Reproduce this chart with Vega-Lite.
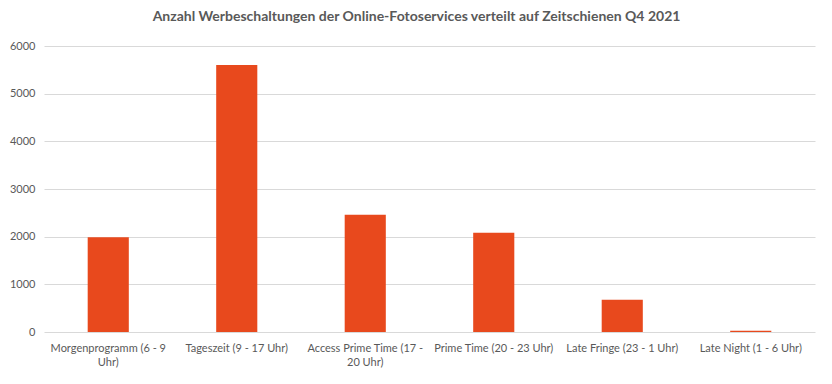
{
  "$schema": "https://vega.github.io/schema/vega-lite/v6.json",
  "width": 771,
  "height": 286,
  "autosize": {"type": "none"},
  "padding": {"left": 44, "top": 46, "right": 17, "bottom": 52},
  "background": "white",
  "title": {
    "text": "Anzahl Werbeschaltungen der Online-Fotoservices verteilt auf Zeitschienen Q4 2021",
    "font": "Lato",
    "fontSize": 14,
    "fontWeight": "bold",
    "color": "#595959",
    "anchor": "middle",
    "offset": 16,
    "dx": -13
  },
  "data": {
    "values": [
      {"zeitschiene": "Morgenprogramm (6 - 9 Uhr)", "anzahl": 1990},
      {"zeitschiene": "Tageszeit (9 - 17 Uhr)", "anzahl": 5600},
      {"zeitschiene": "Access Prime Time (17 - 20 Uhr)", "anzahl": 2460},
      {"zeitschiene": "Prime Time (20 - 23 Uhr)", "anzahl": 2080},
      {"zeitschiene": "Late Fringe (23 - 1 Uhr)", "anzahl": 675},
      {"zeitschiene": "Late Night (1 - 6 Uhr)", "anzahl": 25}
    ]
  },
  "mark": {"type": "bar", "color": "#E8491D"},
  "encoding": {
    "x": {
      "field": "zeitschiene",
      "type": "nominal",
      "sort": null,
      "scale": {"paddingInner": 0.68, "paddingOuter": 0.34},
      "axis": {
        "title": null,
        "labelAngle": 0,
        "labelFont": "Lato",
        "labelFontSize": 11,
        "labelColor": "#595959",
        "labelPadding": 10,
        "labelLineHeight": 14,
        "labelLimit": 200,
        "domain": false,
        "ticks": false,
        "labelExpr": "datum.value == 'Morgenprogramm (6 - 9 Uhr)' ? ['Morgenprogramm (6 - 9', 'Uhr)'] : datum.value == 'Access Prime Time (17 - 20 Uhr)' ? ['Access Prime Time (17 -', '20 Uhr)'] : datum.value"
      }
    },
    "y": {
      "field": "anzahl",
      "type": "quantitative",
      "scale": {"domain": [0, 6000], "nice": false},
      "axis": {
        "title": null,
        "values": [0, 1000, 2000, 3000, 4000, 5000, 6000],
        "format": "d",
        "labelFont": "Lato",
        "labelFontSize": 11,
        "labelColor": "#595959",
        "labelPadding": 9,
        "domain": false,
        "ticks": false,
        "grid": true,
        "gridColor": "#D9D9D9",
        "gridWidth": 1
      }
    }
  },
  "config": {"view": {"stroke": null}}
}
